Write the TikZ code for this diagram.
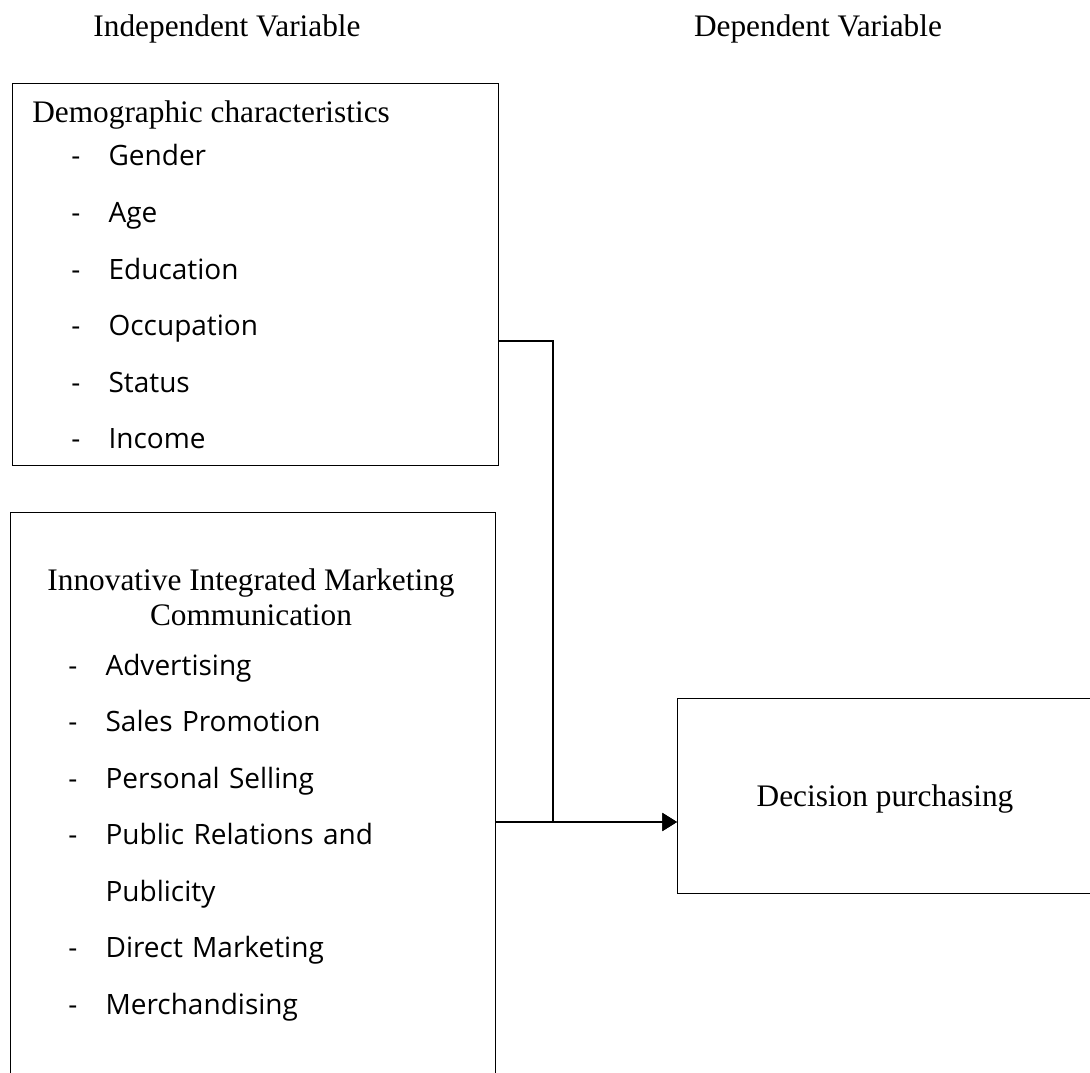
\documentclass[tikz,border=0pt]{standalone}
\usepackage{fontspec}
\setmainfont{Liberation Serif}
\newfontfamily\listfont{Open Sans}
\usetikzlibrary{arrows.meta, positioning}

\tikzset{
  varbox/.style={rectangle, draw, line width=0.8pt, inner sep=0pt, anchor=north west},
  heading/.style={font=\fontsize{23.5}{26.25}\selectfont, inner sep=0pt},
  factor/.style={font=\listfont\fontsize{21}{25}\selectfont, inner sep=0pt, text width=300pt, align=left, text height=16pt, text depth=5pt},
  link/.style={line width=0.9pt},
}
\newcommand{\dashitem}[1]{\makebox[28pt][l]{-}#1}

\begin{document}
\begin{tikzpicture}[x=0.75pt, y=-0.75pt, node distance=21pt]
    \useasboundingbox (0,0) rectangle (1090,1073);

    % headings
    \node [heading, anchor=base] (indep) at (227,37) {Independent Variable};
    \node [heading, anchor=base] (dep) at (818,37) {Dependent Variable};

    % demographic characteristics
    \node [varbox, minimum width=364.5pt, minimum height=286.5pt] (demo) at (12,83) {};
    \node [heading, anchor=base west] (demotitle) at (32,123) {Demographic characteristics};
    \node [factor, anchor=base west] (gender) at (71,166) {\dashitem{Gender}};
    \node [factor, below=of gender] (age) {\dashitem{Age}};
    \node [factor, below=of age] (edu) {\dashitem{Education}};
    \node [factor, below=of edu] (occup) {\dashitem{Occupation}};
    \node [factor, below=of occup] (status) {\dashitem{Status}};
    \node [factor, below=of status] (income) {\dashitem{Income}};

    % innovative integrated marketing communication
    \node [varbox, minimum width=363.75pt, minimum height=433.5pt] (iimc) at (10,512) {};
    \node [heading, anchor=base, align=center] (iimctitle) at (251,625) {Innovative Integrated Marketing\\Communication};
    \node [factor, anchor=base west] (advert) at (68,675) {\dashitem{Advertising}};
    \node [factor, below=of advert] (promo) {\dashitem{Sales Promotion}};
    \node [factor, below=of promo] (selling) {\dashitem{Personal Selling}};
    \node [factor, below=of selling] (pr) {\dashitem{Public Relations and}};
    \node [factor, below=of pr] (publicity) {\hspace*{28pt}Publicity};
    \node [factor, below=of publicity] (direct) {\dashitem{Direct Marketing}};
    \node [factor, below=of direct] (merch) {\dashitem{Merchandising}};

    % dependent variable
    \node [varbox, heading, text depth=0pt, minimum width=311.25pt, minimum height=146.25pt] (decision) at (677,698) {Decision purchasing};

    \coordinate (bend) at (553,341);
    \coordinate (join) at (553,822);
    \draw [link, -{Triangle[length=11pt, width=13.5pt]}] (bend -| demo.east) -- (bend) -- (join) -- (join -| decision.west);
    \draw [link, -{Triangle[length=11pt, width=13.5pt]}] (join -| iimc.east) -- (join -| decision.west);
\end{tikzpicture}
\end{document}
